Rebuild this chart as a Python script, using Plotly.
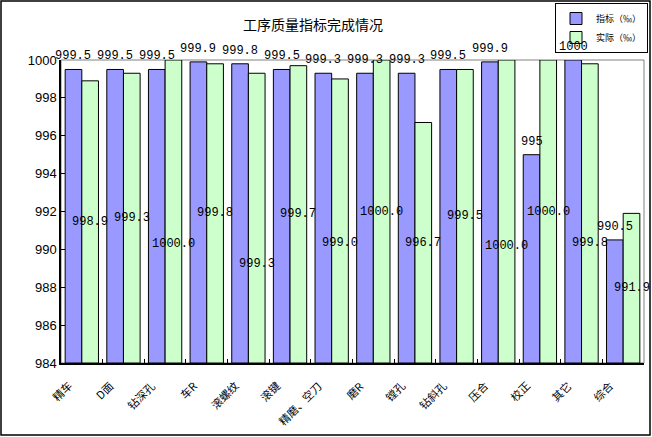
import plotly.graph_objects as go

# categories and values (‰)
categories = ["精车", "D面", "钻深孔", "车R", "滚螺纹", "滚键", "精磨、空刀",
              "磨R", "镗孔", "钻斜孔", "压合", "校正", "其它", "综合"]
target = [999.5, 999.5, 999.5, 999.9, 999.8, 999.5, 999.3,
          999.3, 999.3, 999.5, 999.9, 995, 1000, 990.5]
actual = [998.9, 999.3, 1000.0, 999.8, 999.3, 999.7, 999.0,
          1000.0, 996.7, 999.5, 1000.0, 1000.0, 999.8, 991.9]

Y_MIN = 984
Y_MAX = 1000

W, H = 652, 437
L, R, T, B = 61, 8, 60, 74
pw = W - L - R
ph = H - T - B
BARGAP = 0.2
bar_px = pw / len(categories) * (1 - BARGAP) / 2

# labels of the "实际" bars were dragged down by hand in the original (px)
actual_label_drop = [0, 0, 32, 0, 46, 0, 22, 0, 0, 0, 34, 0, 30, 0]

num_font = "Liberation Mono, Noto Sans CJK SC"
cjk_font = "Noto Sans CJK SC"

fig = go.Figure()

fig.add_trace(go.Bar(
    x=categories,
    y=[v - Y_MIN for v in target],
    base=Y_MIN,
    name="指标（‰）",
    marker=dict(color="#9999FF", line=dict(color="black", width=1)),
))

fig.add_trace(go.Bar(
    x=categories,
    y=[v - Y_MIN for v in actual],
    base=Y_MIN,
    name="实际（‰）",
    marker=dict(color="#CCFFCC", line=dict(color="black", width=1)),
))

# data labels on top of all bars
for c, v in zip(categories, target):
    fig.add_annotation(x=c, y=v, text=f"{v:g}", showarrow=False,
                       xshift=-bar_px / 2, yshift=4, yanchor="bottom",
                       font=dict(family=num_font, size=12, color="black"))
for c, v, d in zip(categories, actual, actual_label_drop):
    fig.add_annotation(x=c, y=(v + Y_MIN) / 2, text=f"{v:.1f}", showarrow=False,
                       xshift=bar_px / 2, yshift=-d, yanchor="middle",
                       font=dict(family=num_font, size=12, color="black"))

# category labels, slanted
for c in categories:
    fig.add_annotation(x=c, y=0, yref="paper", text=c, showarrow=False,
                       textangle=-45, xanchor="right", yanchor="top",
                       xshift=-4, yshift=-12,
                       font=dict(family=cjk_font, size=11, color="black"))

# grey plot-area border (top / right)
fig.add_shape(type="rect", xref="paper", yref="paper", x0=0, x1=1, y0=0, y1=1,
              line=dict(color="#808080", width=1), layer="below")

# black outer frame of the chart
fig.add_shape(type="rect", xref="paper", yref="paper",
              x0=(1 - L) / pw, x1=(W - 2 - L) / pw,
              y0=(ph - (H - 2 - T)) / ph, y1=(ph - (1 - T)) / ph,
              line=dict(color="black", width=1.5))

fig.update_layout(
    width=W, height=H,
    margin=dict(l=L, r=R, t=T, b=B, autoexpand=False),
    paper_bgcolor="white",
    plot_bgcolor="white",
    barmode="group",
    bargap=BARGAP,
    bargroupgap=0,
    title=dict(text="工序质量指标完成情况", x=313 / W, xref="container",
               y=1 - 25 / H, yanchor="middle", xanchor="center",
               font=dict(family=cjk_font, size=14, color="black")),
    legend=dict(x=(648 - L) / pw, xanchor="right", y=(ph - (3 - T)) / ph, yanchor="top",
                bordercolor="black", borderwidth=1, bgcolor="white",
                font=dict(family=cjk_font, size=9, color="black"),
                tracegroupgap=0, itemwidth=30),
    xaxis=dict(type="category", range=[-0.5, len(categories) - 0.5],
               showgrid=False, showline=True, linecolor="black",
               linewidth=1.5, ticks="inside", ticklen=4, tickson="boundaries",
               tickcolor="black", showticklabels=False),
    yaxis=dict(range=[Y_MIN, Y_MAX], dtick=2, showgrid=False, zeroline=False,
               showline=True, linecolor="black", linewidth=1.5,
               ticks="inside", ticklen=4, tickcolor="black",
               tickfont=dict(family="Liberation Sans", size=13, color="black")),
)

fig.write_html("out.html", config={"displayModeBar": False},
               post_script="document.body.style.margin='0';")
